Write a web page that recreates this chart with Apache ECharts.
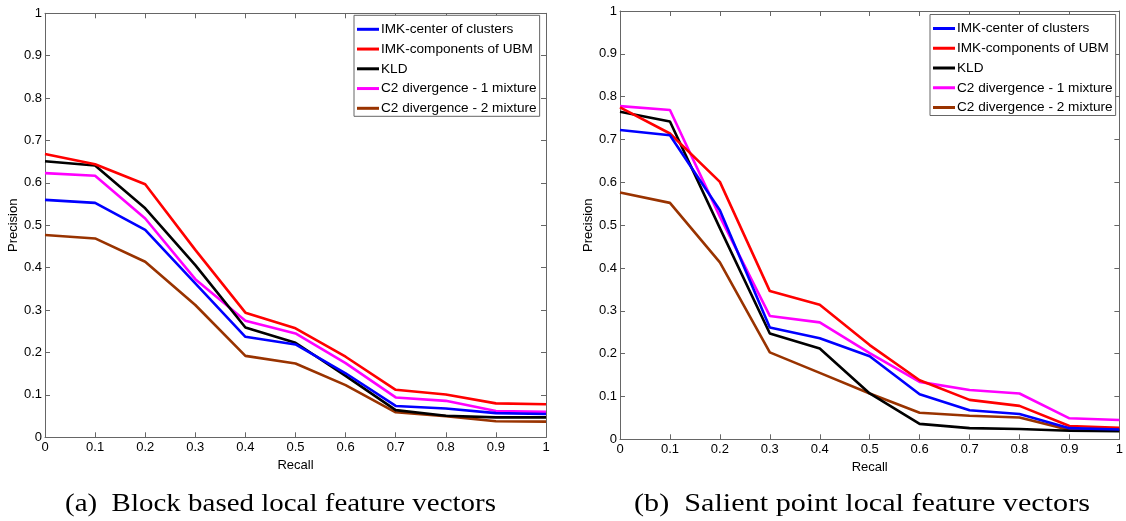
<!DOCTYPE html>
<html>
<head>
<meta charset="utf-8">
<script src="https://cdn.jsdelivr.net/npm/echarts@6/dist/echarts.min.js"></script>
<style>
html,body{margin:0;padding:0;background:#fff;}
#chart{width:1126px;height:521px;}
</style>
</head>
<body>
<div id="chart"></div>
<script>
// ---- data ----
const recall = [0, 0.1, 0.2, 0.3, 0.4, 0.5, 0.6, 0.7, 0.8, 0.9, 1.0];
const seriesNames = ['IMK-center of clusters', 'IMK-components of UBM', 'KLD', 'C2 divergence - 1 mixture', 'C2 divergence - 2 mixture'];
const seriesColors = ['#0000ff', '#ff0000', '#000000', '#ff00ff', '#993300'];

// (a) Block based local feature vectors
const blockImkCenter = [0.560, 0.553, 0.489, 0.363, 0.237, 0.219, 0.151, 0.074, 0.068, 0.057, 0.055];
const blockImkUbm    = [0.668, 0.644, 0.597, 0.442, 0.294, 0.257, 0.190, 0.112, 0.101, 0.080, 0.078];
const blockKld       = [0.651, 0.641, 0.540, 0.406, 0.259, 0.223, 0.145, 0.064, 0.051, 0.047, 0.047];
const blockC2One     = [0.623, 0.617, 0.516, 0.373, 0.275, 0.245, 0.175, 0.094, 0.086, 0.062, 0.060];
const blockC2Two     = [0.477, 0.469, 0.414, 0.312, 0.192, 0.174, 0.123, 0.059, 0.050, 0.038, 0.037];

// (b) Salient point local feature vectors
const salImkCenter = [0.722, 0.710, 0.535, 0.261, 0.236, 0.194, 0.105, 0.068, 0.059, 0.026, 0.023];
const salImkUbm    = [0.775, 0.714, 0.601, 0.346, 0.314, 0.220, 0.138, 0.092, 0.078, 0.031, 0.027];
const salKld       = [0.765, 0.742, 0.493, 0.247, 0.212, 0.107, 0.036, 0.026, 0.024, 0.020, 0.019];
const salC2One     = [0.778, 0.769, 0.520, 0.288, 0.273, 0.201, 0.134, 0.115, 0.107, 0.049, 0.045];
const salC2Two     = [0.576, 0.552, 0.413, 0.203, 0.155, 0.107, 0.062, 0.055, 0.051, 0.022, 0.022];

const xLabel = 'Recall';
const yLabel = 'Precision';
const captions = ['(a)  Block based local feature vectors', '(b)  Salient point local feature vectors'];

const blockSets = [blockImkCenter, blockImkUbm, blockKld, blockC2One, blockC2Two];
const salSets = [salImkCenter, salImkUbm, salKld, salC2One, salC2Two];

// ---- chart ----
const chart = echarts.init(document.getElementById('chart'), null, {renderer: 'canvas'});
const font = 'Liberation Sans, Arial, Helvetica, sans-serif';
const axisColor = '#666666';

const grids = [
  {left: 45, top: 13.3, width: 501, height: 424},
  {left: 620, top: 11, width: 500, height: 428.3}
];

function xAxes(gi) {
  const base = {
    type: 'value', min: 0, max: 1, interval: 0.1, gridIndex: gi,
    axisLine: {show: true, onZero: false, lineStyle: {color: axisColor, width: 1}},
    axisTick: {show: true, inside: true, length: 5, lineStyle: {color: axisColor}},
    splitLine: {show: false}
  };
  return [
    Object.assign({}, base, {
      position: 'bottom',
      name: xLabel, nameLocation: 'middle', nameGap: 21,
      nameTextStyle: {color: '#000', fontSize: 13, fontFamily: font},
      axisLabel: {show: true, color: '#000', fontSize: 13, fontFamily: font, margin: 4}
    }),
    Object.assign({}, base, {position: 'top', axisLabel: {show: false}})
  ];
}
function yAxes(gi, gap) {
  const base = {
    type: 'value', min: 0, max: 1, interval: 0.1, gridIndex: gi,
    axisLine: {show: true, onZero: false, lineStyle: {color: axisColor, width: 1}},
    axisTick: {show: true, inside: true, length: 5, lineStyle: {color: axisColor}},
    splitLine: {show: false}
  };
  return [
    Object.assign({}, base, {
      position: 'left',
      name: yLabel, nameLocation: 'middle', nameGap: gap,
      nameTextStyle: {color: '#000', fontSize: 13, fontFamily: font},
      axisLabel: {show: true, color: '#000', fontSize: 13, fontFamily: font, margin: 3}
    }),
    Object.assign({}, base, {position: 'right', axisLabel: {show: false}})
  ];
}

const series = [];
function addSeries(sets, xi, yi) {
  sets.forEach((vals, i) => {
    series.push({
      name: seriesNames[i], type: 'line',
      xAxisIndex: xi, yAxisIndex: yi,
      data: recall.map((r, k) => [r, vals[k]]),
      symbol: 'none', smooth: false,
      lineStyle: {color: seriesColors[i], width: 2.6},
      itemStyle: {color: seriesColors[i]},
      z: 10 - i
    });
  });
}
addSeries(blockSets, 0, 0);
addSeries(salSets, 2, 2);

function legend(left, top) {
  return {
    left: left, top: top, orient: 'vertical', align: 'left',
    data: seriesNames,
    icon: 'rect', itemWidth: 22, itemHeight: 3, itemGap: 3.75,
    backgroundColor: '#fff', borderColor: '#666', borderWidth: 1,
    padding: [6, 3, 0, 3],
    selectedMode: false,
    textStyle: {color: '#000', fontSize: 13.6, fontFamily: font, lineHeight: 16, padding: [0, 0, 0, -3]}
  };
}

// caption font: scale horizontally so the caption spans its measured width
const capFont = '25px "Liberation Serif", serif';
const ctx = document.createElement('canvas').getContext('2d');
ctx.font = capFont;
const capTargets = [431, 456];
const capScale = captions.map((c, i) => capTargets[i] / ctx.measureText(c).width);

chart.setOption({
  animation: false,
  backgroundColor: '#fff',
  grid: grids,
  xAxis: xAxes(0).concat(xAxes(1)),
  yAxis: yAxes(0, 19).concat(yAxes(1, 20)),
  legend: [legend(354, 15.3), legend(930, 14.5)],
  series: series,
  graphic: [
    {type: 'text', x: 65, y: 492, scaleX: capScale[0], style: {text: captions[0], font: capFont, fill: '#000'}},
    {type: 'text', x: 634, y: 492, scaleX: capScale[1], style: {text: captions[1], font: capFont, fill: '#000'}}
  ]
});
</script>
</body>
</html>
